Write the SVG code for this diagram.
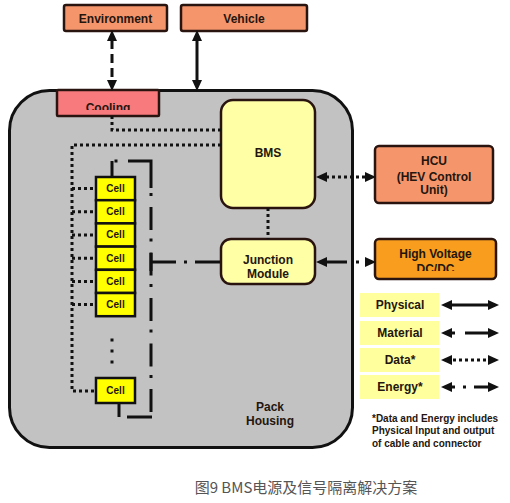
<svg xmlns="http://www.w3.org/2000/svg" width="510" height="503" viewBox="0 0 510 503">
<style>
.t{font-family:"Liberation Sans",Arial,sans-serif;font-weight:bold;fill:#24160f;text-anchor:middle}
.f12{font-size:12px}
.f10{font-size:10px}
.box{stroke:#2a1410;stroke-width:2.5}
.ext{fill:#F5956B}
.yel{fill:#FFFFA6}
.cell{fill:#FFFF00;stroke:#111;stroke-width:2.5}
.leg{fill:#FFFF9E}
.ln{fill:none;stroke:#111;stroke-width:3}
.dot{stroke-dasharray:3 3}
</style>
<defs>
<marker id="ah" markerUnits="userSpaceOnUse" markerWidth="11" markerHeight="10" refX="1" refY="5" orient="auto-start-reverse" viewBox="0 0 11 10">
<path d="M0,0 L11,5 L0,10 z" fill="#111"/>
</marker>
<clipPath id="cc"><rect x="50" y="85" width="120" height="25"/></clipPath>
<clipPath id="ch"><rect x="370" y="235" width="130" height="36"/></clipPath>
</defs>

<g id="pack-housing">
<rect x="9.5" y="90.5" width="343" height="357" rx="40" fill="#C2C2C2" stroke="#111" stroke-width="3"/>
<text class="t f12" x="270" y="411">Pack</text>
<text class="t f12" x="270" y="425">Housing</text>
</g>

<g id="environment">
<rect class="box ext" x="64" y="5" width="103" height="26" rx="2"/>
<text class="t f12" x="115.5" y="23">Environment</text>
</g>
<g id="vehicle">
<rect class="box ext" x="181" y="5" width="126" height="26" rx="2"/>
<text class="t f12" x="244" y="23">Vehicle</text>
</g>
<g id="cooling">
<rect class="box" x="57" y="90" width="102" height="26" rx="1" fill="#F87A7C"/>
<text class="t f12" x="108" y="111.5" clip-path="url(#cc)">Cooling</text>
</g>
<g id="bms">
<rect class="box yel" x="221" y="100" width="94" height="108" rx="12"/>
<text class="t f12" x="268" y="157">BMS</text>
</g>
<g id="junction-module">
<rect class="box yel" x="221" y="239" width="94" height="45" rx="10"/>
<text class="t f12" x="268" y="264">Junction</text>
<text class="t f12" x="268" y="278">Module</text>
</g>
<g id="hcu">
<rect class="box ext" x="375" y="146" width="118" height="57" rx="4"/>
<text class="t f12" x="434" y="165">HCU</text>
<text class="t f12" x="434" y="181">(HEV Control</text>
<text class="t f12" x="434" y="194">Unit)</text>
</g>
<g id="hv-dcdc">
<rect class="box" x="375" y="239" width="121" height="40" rx="4" fill="#F89D1E"/>
<text class="t f12" x="435.5" y="258">High Voltage</text>
<text class="t f12" x="435.5" y="272.5" clip-path="url(#ch)">DC/DC</text>
</g>

<g id="cells">
<g id="cell-1"><rect class="cell" x="96" y="177" width="39" height="23.2"/><text class="t f10" x="115.5" y="192">Cell</text></g>
<g id="cell-2"><rect class="cell" x="96" y="200.2" width="39" height="23.2"/><text class="t f10" x="115.5" y="215.2">Cell</text></g>
<g id="cell-3"><rect class="cell" x="96" y="223.4" width="39" height="23.2"/><text class="t f10" x="115.5" y="238.4">Cell</text></g>
<g id="cell-4"><rect class="cell" x="96" y="246.6" width="39" height="23.2"/><text class="t f10" x="115.5" y="261.6">Cell</text></g>
<g id="cell-5"><rect class="cell" x="96" y="269.8" width="39" height="23.2"/><text class="t f10" x="115.5" y="284.8">Cell</text></g>
<g id="cell-6"><rect class="cell" x="96" y="293" width="39" height="23.2"/><text class="t f10" x="115.5" y="308">Cell</text></g>
<g id="cell-n"><rect class="cell" x="96" y="378" width="39" height="25"/><text class="t f10" x="115.5" y="394">Cell</text></g>
<g id="ellipsis" fill="#111">
<rect x="110.5" y="338.5" width="3" height="3"/>
<rect x="110.5" y="349.5" width="3" height="3"/>
<rect x="110.5" y="360.5" width="3" height="3"/>
</g>
</g>

<g id="connectors">
<line class="ln" x1="112" y1="40" x2="112" y2="81" stroke-dasharray="9 5" marker-start="url(#ah)" marker-end="url(#ah)"/>
<line class="ln" x1="197" y1="40" x2="197" y2="81" marker-start="url(#ah)" marker-end="url(#ah)"/>
<path class="ln dot" d="M112,116 V130 H221"/>
<path class="ln dot" d="M221,145 H72 V391 H96"/>
<path class="ln dot" d="M72,188.6 H96 M72,211.8 H96 M72,235 H96 M72,258.2 H96 M72,281.4 H96 M72,304.6 H96"/>
<path class="ln dot" d="M268,208 V239"/>
<line class="ln dot" x1="326" y1="177" x2="366" y2="177" marker-start="url(#ah)" marker-end="url(#ah)"/>
<line class="ln" x1="326" y1="262" x2="366" y2="262" stroke-dasharray="21 9 3 7" marker-start="url(#ah)" marker-end="url(#ah)"/>
<path class="ln" d="M112,177 V161"/>
<rect x="114.5" y="159.5" width="3" height="3" fill="#111"/>
<path class="ln" d="M128,161 H151 V188"/>
<path class="ln" d="M151,188 V412" stroke-dasharray="23 8.5 3 11" stroke-dashoffset="26.5"/>
<path class="ln" d="M152,417 H127"/>
<path class="ln" d="M119,417 V403"/>
<path class="ln" d="M151,253 V271"/>
<path class="ln" d="M151,262 H220" stroke-dasharray="25 8 3 8 25"/>
</g>

<g id="legend">
<rect class="leg" x="360" y="293" width="79" height="24"/>
<rect class="leg" x="360" y="321" width="79" height="24"/>
<rect class="leg" x="360" y="348" width="79" height="24"/>
<rect class="leg" x="360" y="375" width="79" height="24"/>
<text class="t f12" x="400" y="309">Physical</text>
<text class="t f12" x="400" y="337">Material</text>
<text class="t f12" x="400" y="364">Data*</text>
<text class="t f12" x="400" y="391">Energy*</text>
<line class="ln" x1="451" y1="305" x2="489" y2="305" marker-start="url(#ah)" marker-end="url(#ah)"/>
<line class="ln" x1="451" y1="333" x2="489" y2="333" stroke-dasharray="4 10 24" marker-start="url(#ah)" marker-end="url(#ah)"/>
<line class="ln" x1="451" y1="360" x2="489" y2="360" stroke-dasharray="3 3" stroke-dashoffset="-2" marker-start="url(#ah)" marker-end="url(#ah)"/>
<line class="ln" x1="451" y1="387" x2="489" y2="387" stroke-dasharray="4 8 3 8 15" marker-start="url(#ah)" marker-end="url(#ah)"/>
<text font-family="Liberation Sans,Arial,sans-serif" font-weight="bold" font-size="10" fill="#24160f">
<tspan x="372" y="421.5">*Data and Energy includes</tspan>
<tspan x="372" y="434">Physical Input and output</tspan>
<tspan x="372" y="446.5">of cable and connector</tspan>
</text>
</g>

<text x="306" y="493" font-family="Noto Sans CJK SC,Noto Sans,sans-serif" font-size="15" fill="#555" text-anchor="middle">图9 BMS电源及信号隔离解决方案</text>
</svg>
